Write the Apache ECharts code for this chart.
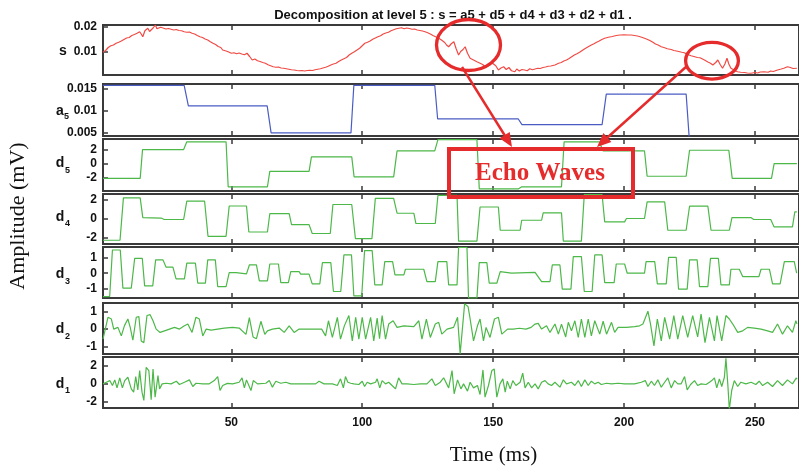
<!DOCTYPE html>
<html><head><meta charset="utf-8">
<script src="https://cdn.jsdelivr.net/npm/echarts@6/dist/echarts.min.js"></script>
<style>html,body{margin:0;padding:0;background:#fff}#c{width:799px;height:468px}</style>
</head><body><div id="c"></div>
<script>
// ---------- DATA ----------
const xTicks = [50, 100, 150, 200, 250];
const sTicks = [0.01, 0.02];
const a5Ticks = [0.005, 0.01, 0.015];
const d5Ticks = [-2, 0, 2];
const d4Ticks = [-2, 0, 2];
const d3Ticks = [-1, 0, 1];
const d2Ticks = [-1, 0, 1];
const d1Ticks = [-2, 0, 2];

const sSignal = [[1,0.0099],[2,0.0106],[3,0.0118],[4,0.0125],[5,0.0128],[6,0.0135],[7,0.0139],[8,0.0144],[9,0.0150],[10,0.0156],[11,0.0158],[12,0.0166],[13,0.0170],[14,0.0175],[15,0.0181],[15.6,0.0172],[16.2,0.0161],[17,0.0185],[17.6,0.0178],[18.1,0.0195],[18.8,0.0182],[19.4,0.0175],[20.2,0.0197],[21,0.0208],[21.6,0.0193],[22.2,0.0188],[23,0.0199],[24.2,0.0195],[25,0.0192],[26,0.0194],[27,0.0191],[28,0.0188],[29,0.0190],[30,0.0186],[31,0.0185],[32,0.0181],[33,0.0179],[34,0.0180],[35,0.0175],[36,0.0172],[37,0.0166],[38,0.0161],[39,0.0158],[40,0.0152],[41,0.0148],[42,0.0141],[43,0.0135],[44,0.0130],[45,0.0122],[46,0.0118],[46.7,0.0108],[48,0.0104],[49,0.0100],[50,0.0095],[51,0.0097],[52,0.0093],[53,0.0096],[54,0.0092],[55,0.0089],[56,0.0095],[57,0.0082],[58,0.0068],[59,0.0072],[60,0.0065],[61,0.0062],[62,0.0058],[63,0.0055],[64,0.0049],[65,0.0045],[66,0.0041],[67,0.0039],[68,0.0040],[69,0.0036],[70,0.0035],[71,0.0033],[72,0.0031],[73,0.0029],[74,0.0028],[75,0.0026],[76,0.0025],[77,0.0026],[78,0.0024],[79,0.0026],[80,0.0027],[81,0.0026],[82,0.0029],[83,0.0031],[84,0.0033],[85,0.0036],[86,0.0039],[87,0.0043],[88,0.0048],[89,0.0052],[90,0.0055],[91,0.0062],[92,0.0068],[93,0.0073],[94,0.0078],[95,0.0088],[96,0.0095],[97,0.0101],[98,0.0108],[99,0.0115],[100,0.0125],[101,0.0135],[102,0.0139],[103,0.0144],[104,0.0151],[105,0.0156],[106,0.0161],[107,0.0165],[108,0.0172],[109,0.0176],[110,0.0179],[111,0.0185],[112,0.0189],[113,0.0193],[114,0.0195],[115,0.0197],[116,0.0193],[117,0.0196],[118,0.0194],[119,0.0191],[120,0.0192],[121,0.0188],[122,0.0186],[123,0.0184],[124,0.0181],[125,0.0177],[126,0.0172],[127,0.0166],[128,0.0161],[129,0.0156],[130,0.0150],[130.5,0.0148],[131.5,0.0138],[132.2,0.0128],[133,0.0121],[134,0.0133],[135,0.0141],[135.8,0.0115],[136.8,0.0088],[137.6,0.0102],[138.5,0.0110],[139.3,0.0121],[140.2,0.0095],[141.2,0.0075],[142.5,0.0068],[143.8,0.0061],[145,0.0055],[146,0.0050],[147,0.0041],[148,0.0044],[148.8,0.0048],[149.4,0.0058],[150,0.0061],[151,0.0045],[152,0.0028],[153,0.0036],[154,0.0041],[155,0.0030],[156,0.0038],[157,0.0025],[158.3,0.0021],[159,0.0032],[160,0.0024],[161,0.0030],[162,0.0028],[163,0.0025],[164,0.0033],[165,0.0029],[166,0.0032],[167,0.0035],[168,0.0034],[169,0.0038],[170,0.0040],[171,0.0043],[172,0.0044],[173.6,0.0048],[175,0.0055],[176,0.0058],[177,0.0064],[178,0.0068],[179,0.0074],[180,0.0081],[181,0.0088],[182,0.0093],[183,0.0099],[184,0.0106],[185,0.0113],[186.3,0.0121],[187.5,0.0128],[188.5,0.0133],[189.5,0.0139],[190.5,0.0144],[191.5,0.0150],[192.6,0.0155],[194,0.0159],[195.5,0.0162],[197,0.0166],[198.5,0.0168],[200,0.0169],[201.5,0.0168],[202.7,0.0168],[204,0.0166],[205.5,0.0163],[207,0.0158],[207.8,0.0155],[209,0.0150],[210,0.0145],[211,0.0139],[212,0.0132],[213,0.0128],[214.2,0.0121],[215.5,0.0117],[216.5,0.0113],[218,0.0110],[219,0.0106],[220.5,0.0103],[222,0.0099],[223,0.0097],[224,0.0091],[225.6,0.0085],[227,0.0081],[228,0.0078],[229,0.0077],[230.7,0.0068],[232,0.0060],[233,0.0055],[233.9,0.0048],[235,0.0058],[235.8,0.0068],[236.7,0.0050],[237.6,0.0035],[238.5,0.0052],[239.3,0.0075],[240,0.0052],[240.8,0.0035],[241.5,0.0028],[242.5,0.0025],[243.3,0.0021],[244.5,0.0019],[246,0.0018],[247,0.0016],[248.4,0.0015],[250,0.0018],[251,0.0016],[252,0.0020],[253.5,0.0021],[255,0.0019],[256,0.0024],[257,0.0022],[258.6,0.0028],[260,0.0032],[261,0.0035],[262.4,0.0041],[263.5,0.0038],[264.5,0.0034],[266,0.0035]];

const a5Approx = [[1,0.0158],[32,0.0158],[33.6,0.0111],[63.7,0.0111],[65.2,0.0049],[95.7,0.0049],[96.8,0.0158],[127.7,0.0158],[128.8,0.0081],[159.6,0.0081],[161,0.0068],[191.6,0.0068],[193.2,0.0138],[223.7,0.0138],[225.2,0.001],[266,0.001]];

const d5Detail = [[1,-2.1],[15.2,-2.1],[16.1,2.0],[31.8,2.0],[33,3.1],[48,3.1],[48.8,-3.3],[63.8,-3.3],[64.7,-1.1],[79.7,-1.1],[80.6,0.95],[96,0.95],[96.9,-1.9],[112,-1.9],[113.3,1.8],[127.7,1.8],[128.9,3.4],[143.8,3.4],[144.7,-3.6],[159.6,-3.6],[160.9,-3.3],[176.1,-3.3],[177.1,3.1],[190.5,3.1],[192,1.8],[207.8,1.8],[208.8,-1.8],[223.7,-1.8],[225,1.9],[240,1.9],[241.3,-2.1],[256.3,-2.1],[257.3,0],[266,0]];

const d4Detail = [[1,-2.26],[7.5,-2.26],[8.8,2.15],[15.2,2.15],[16.2,0.1],[23.2,0.05],[24.4,-0.1],[31.8,-0.1],[33,1.8],[39.8,1.8],[41.1,-1.85],[48,-1.85],[49.2,1.3],[55.8,1.3],[56.7,-1.4],[63.8,-1.4],[64.7,0.5],[72.1,0.5],[73,-0.63],[79.7,-0.63],[80.9,-1.56],[87.8,-1.56],[88.8,1.46],[96,1.46],[97.4,-2.1],[103.7,-2.1],[105,2.1],[112,2.1],[113.3,0.55],[119.7,0.55],[120.5,-0.52],[127.9,-0.52],[128.9,2.4],[136.2,2.4],[136.8,-2.35],[143.8,-2.35],[145,1.2],[152,1.2],[152.7,-1.22],[160.3,-1.22],[160.9,-0.18],[168.5,-0.18],[169.1,0.59],[176.1,0.59],[176.8,-2.36],[183.7,-2.36],[184.8,2.5],[191.6,2.5],[192.6,-0.35],[200.2,-0.35],[200.9,0],[207.8,0],[208.8,1.73],[215.5,1.73],[216.7,-1.22],[223.7,-1.22],[225,1.28],[232,1.28],[233.2,-1.22],[240.2,-1.22],[241.2,0.1],[248.4,0.1],[249.5,-0.1],[256,-0.1],[257.3,-0.87],[264.3,-0.87],[265.2,0.69],[266,0.69]];

const d3Detail = [[1,-1.47],[3.55,-1.47],[4.6,1.46],[7.6,1.46],[8.6,-0.94],[11.8,-0.94],[13.1,0.94],[16,0.94],[16.9,-0.8],[20,-0.8],[21.1,0.84],[23.9,0.84],[25.1,0.38],[27.7,0.38],[28.9,-0.36],[32.1,-0.36],[33,0.63],[36.3,0.63],[37.2,-0.63],[40.1,-0.63],[41,0.84],[43.9,0.84],[44.8,-0.84],[48,-0.84],[49.2,0.04],[51.8,0.04],[52.5,-0.04],[55.8,-0.04],[56.9,0.52],[59.6,0.52],[60.7,-0.48],[63.8,-0.48],[64.7,0.58],[68,0.58],[68.9,-0.59],[71.8,-0.59],[72.7,0.1],[75.9,0.1],[76.5,-0.06],[79.7,-0.06],[80.9,-0.67],[83.8,-0.67],[84.8,0.67],[88,0.67],[89,-1.15],[91.8,-1.15],[93,1.15],[95.9,1.15],[96.8,-1.43],[99.8,-1.43],[100.9,1.42],[103.8,1.42],[104.8,-0.74],[107.6,-0.74],[108.6,0.73],[111.6,0.73],[112.5,-0.11],[115.9,-0.11],[116.5,0.25],[123.5,0.25],[124.7,-0.53],[127.9,-0.53],[128.9,0.73],[132.3,0.73],[133,-0.74],[136.2,-0.74],[136.8,1.62],[140,1.62],[140.6,-1.57],[143.8,-1.57],[144.7,0.67],[147.6,0.67],[148.5,-0.63],[151.4,-0.63],[152.7,0.1],[157,0.0],[166,0.05],[168.5,-0.53],[171.7,-0.53],[172.6,0.52],[175.5,0.52],[176.4,-1.0],[179.7,-1.0],[180.6,1.05],[183.7,1.05],[184.8,-1.15],[187.8,-1.15],[188.8,1.15],[191.6,1.15],[192.6,-0.59],[196.2,-0.59],[197,0.58],[200.2,0.58],[201.2,0],[207.8,0],[208.4,0.73],[211.7,0.73],[212.7,-0.67],[216.1,-0.67],[217,1.0],[219.9,1.0],[220.8,-1.0],[224.1,-1.0],[225,0.84],[227.9,0.84],[228.8,-0.84],[232,-0.84],[233,0.94],[236,0.94],[237,-0.74],[240.2,-0.74],[240.8,0.25],[244,0.25],[245.3,-0.21],[251.5,-0.21],[252.3,0.25],[255.5,0.25],[256.7,-0.67],[259.6,-0.67],[261.2,0.73],[265,0.73],[265.9,0]];

const d2Detail = [[1,-0.58],[2.9,0.68],[4.2,0.58],[5.1,0],[6.7,0.1],[8,-0.39],[9.2,0.2],[10.5,0.58],[11.4,0.1],[12.4,-0.64],[13.7,0.68],[14.7,0.72],[15.6,-0.68],[16.6,-0.78],[17.8,0.78],[19,0.83],[20.1,0.48],[21.3,0],[22.8,-0.19],[24.5,-0.1],[26.4,0],[28.3,0.1],[30.2,0],[32.1,0.19],[33.4,0.29],[35,-0.19],[36.5,0.68],[37.8,0.58],[39.1,-0.39],[40.4,0],[42.3,-0.06],[44.8,0],[47.3,0.06],[50.5,0.1],[53,0.06],[55.6,-0.3],[56.9,0.66],[58.3,-0.45],[59.6,-0.55],[61.3,0.45],[62.8,-0.3],[63.8,-0.1],[65.7,0],[68.3,0.06],[70.2,-0.19],[72.1,0.19],[74,-0.19],[75.9,0],[84.5,0],[86,-0.39],[87.1,0.48],[88.6,-0.48],[90.5,0.68],[91.7,-0.58],[93.2,0.2],[94.9,0.78],[96.2,-0.68],[97.5,0.68],[98.7,-0.58],[100,0.68],[101.3,-0.58],[103.2,0.68],[104.4,-0.68],[105.7,0.64],[106.6,-0.55],[107.6,0.78],[108.9,-0.58],[110.1,0.29],[111.8,0.48],[113.3,0.1],[115.9,0.19],[119.7,0.14],[121.6,0.48],[122.8,-0.58],[124.5,0.58],[126,-0.48],[127.9,0.29],[129.2,0.39],[130.4,-0.29],[132.4,0],[134.9,0.1],[136.4,0.68],[137.4,-1.41],[139.1,1.45],[140.4,1.3],[141,0.78],[142.5,-0.68],[144,0.19],[145,0.58],[146.3,-0.68],[147.3,0.1],[148.8,-0.48],[150.5,0.58],[152,0.68],[153.3,-0.29],[155.5,0],[157.7,0],[160,0.05],[162.5,0],[164.5,0.1],[166,0.29],[167.2,0.33],[168.5,0],[170.4,0.19],[171.7,-0.19],[173.6,0.29],[174.9,-0.29],[176.1,0.29],[177.7,-0.45],[178.7,0.39],[179.9,-0.1],[181.2,0.48],[182.5,-0.48],[183.7,0.58],[185,-0.48],[186.3,0.58],[187.5,-0.39],[188.8,0.48],[190.7,-0.29],[192,0.45],[193.3,-0.29],[195.2,0.39],[196.4,-0.19],[197.7,0.1],[200.9,0.1],[204,0.14],[205.9,0.19],[207.2,0.29],[209.1,1.03],[210.1,0.29],[211.4,-0.97],[212.7,0.58],[214.2,-0.68],[215.5,0.68],[217.4,-0.58],[219,0.78],[220.5,-0.58],[222.4,0.78],[224.3,-0.48],[226.2,0.78],[228.1,-0.45],[229.4,0.87],[230.9,-0.78],[232.6,0.68],[234.5,-0.68],[235.5,0.78],[237.3,-0.68],[238.9,0.78],[240.2,0.58],[241.5,0.29],[243.4,-0.19],[245.3,-0.1],[247.2,0.1],[249.7,0.06],[252.3,0],[254.8,-0.1],[256.7,-0.19],[258.6,0.29],[260.5,-0.29],[262.4,0.19],[264.3,-0.19],[265.6,0.48],[266,0.3]];

const d1Detail = [[1,0],[2.3,0.18],[3.6,0.36],[4.6,-0.18],[5.5,0.44],[6.35,-0.44],[7.4,0.66],[8.4,-0.44],[9.3,0.36],[10.5,0.73],[11.8,-0.55],[12.7,-0.91],[13.5,0.8],[14.3,-0.66],[15,1.46],[15.9,-0.91],[16.6,-1.82],[17.5,1.82],[18.5,1.46],[19.4,-1.75],[20.1,1.64],[20.9,-1.46],[22,0.91],[22.6,-0.55],[23.6,0],[25.1,0.07],[27,0],[29,0.29],[30.2,-0.07],[32.1,0.18],[34,0.44],[35.3,-0.29],[36.5,0.07],[39.1,0],[41.6,0],[43.5,0.36],[44.8,0.8],[45.7,-0.73],[46.7,-0.18],[48.5,0.05],[50.5,0],[53,0.18],[54.1,0.66],[55,-0.44],[55.8,0.44],[57.5,-0.73],[58.4,0.36],[60,0],[63.2,0.07],[64.5,0.36],[65.7,-0.36],[67,0.29],[68.9,0.07],[70.8,0.18],[72.7,0],[82.2,0],[83.5,0.29],[85.4,0],[88.6,0],[89.2,0.18],[90.5,-0.18],[91.7,0.55],[92.8,-0.44],[93.6,0.8],[94.5,0.18],[95.6,0.07],[96.8,0],[98.7,-0.07],[100,0.29],[100.9,-0.29],[101.9,0.18],[103.2,0],[105.1,0.18],[105.7,0.55],[106.7,-0.44],[107.6,0.36],[108.9,0],[110.1,0.18],[111.4,-0.18],[112.7,-0.55],[113.9,0.66],[115.2,0],[117.1,0],[119.7,-0.07],[122.2,0],[124.7,0],[126.6,0.55],[127.9,-0.18],[129.8,0.18],[131.1,0.66],[133,-0.44],[134.3,1.46],[135.1,-1.09],[136.4,0.44],[137.7,-0.55],[138.7,0],[140.2,-0.8],[141.2,0.18],[142.5,-0.44],[144,-0.18],[145,-1.17],[146.1,1.53],[146.9,-1.46],[148.2,-0.18],[149.5,1.46],[150.4,1.64],[151.4,-1.46],[152.6,0],[153.7,0.55],[154.6,-0.91],[155.4,0.29],[156.5,-0.55],[157.5,0.36],[158.7,-0.18],[160.3,0.18],[161.3,1.17],[162.2,-0.44],[163.4,0.18],[164.7,-0.44],[166,0],[167.2,-0.55],[168.5,0.18],[169.8,0.36],[171,0],[172.3,-0.18],[173.6,0.18],[175.5,-0.36],[176.8,0.44],[178,0],[179.9,0.18],[181.2,-0.18],[182.5,0.36],[183.7,-0.29],[185,0.44],[186.3,-0.18],[187.5,0.29],[188.8,0],[190.1,0.18],[191.3,-0.07],[193.3,0.07],[195.2,0],[197.7,0.07],[200.2,0],[204,0],[206.6,0.18],[208.1,0.36],[209.1,-0.29],[210.4,0.29],[211.6,-0.18],[212.9,0.44],[214.2,-0.36],[215.5,0.18],[216.7,0.66],[218,-0.44],[219.3,0.36],[220.5,0],[221.8,0],[223.1,0.8],[224.1,-0.66],[225.4,-0.07],[226.9,0.36],[228.1,-0.18],[229.4,0],[231.3,-0.07],[232.6,0.18],[233.5,0.36],[234.5,0.66],[235.4,-0.44],[236.4,0.55],[237.3,-0.29],[238.3,0.73],[238.9,2.8],[239.6,0],[240.2,-2.8],[241.1,-0.73],[242.1,0.36],[243.4,-0.29],[244.6,0.18],[246.5,0],[248.5,0.18],[250.3,-0.07],[251.6,0.29],[252.9,-0.18],[254.8,0.18],[256.7,-0.29],[258.6,0.36],[260.5,-0.18],[262.4,0.44],[264.3,0],[265.8,0.66],[266,0.5]];

// ---------- LAYOUT ----------
const panels = [
  {data: sSignal,  color: '#f04a44', min: 0.0008, max: 0.0208, ticks: sTicks,  top: 25,  h: 50},
  {data: a5Approx, color: '#4a5cc4', min: 0.0042, max: 0.0161, ticks: a5Ticks, top: 84,  h: 52},
  {data: d5Detail, color: '#4cb848', min: -3.9,   max: 3.5,    ticks: d5Ticks, top: 139, h: 52},
  {data: d4Detail, color: '#4cb848', min: -2.65,  max: 2.55,   ticks: d4Ticks, top: 194, h: 50},
  {data: d3Detail, color: '#4cb848', min: -1.56,  max: 1.65,   ticks: d3Ticks, top: 247, h: 51},
  {data: d2Detail, color: '#4cb848', min: -1.43,  max: 1.5,    ticks: d2Ticks, top: 303, h: 51},
  {data: d1Detail, color: '#4cb848', min: -2.65,  max: 2.95,   ticks: d1Ticks, top: 357, h: 51}
];
const X_MIN = 1, X_MAX = 266.8;
const frameColor = '#3a3a3a';
const labelFont = {fontSize: 12, fontWeight: 'bold', color: '#111', fontFamily: 'Liberation Sans'};

const grid = [], xAxis = [], yAxis = [], series = [];
panels.forEach((p, i) => {
  grid.push({left: 103, right: -2, top: p.top, height: p.h, show: true,
    borderColor: frameColor, borderWidth: 2, backgroundColor: 'transparent'});
  ['bottom', 'top'].forEach(pos => {
    xAxis.push({gridIndex: i, type: 'value', min: X_MIN, max: X_MAX, position: pos,
      axisLine: {show: false, onZero: false}, splitLine: {show: false},
      axisTick: {show: true, inside: true, length: 5, customValues: xTicks, lineStyle: {color: frameColor, width: 1.5}},
      axisLabel: Object.assign({show: pos === 'bottom' && i === panels.length - 1, customValues: xTicks, margin: 9}, labelFont)});
  });
  yAxis.push({gridIndex: i, type: 'value', min: p.min, max: p.max,
    axisLine: {show: false, onZero: false}, splitLine: {show: false},
    axisTick: {show: true, inside: true, length: 5, customValues: p.ticks, lineStyle: {color: frameColor, width: 1.5}},
    axisLabel: Object.assign({customValues: p.ticks, margin: 6}, labelFont)});
  series.push({type: 'line', xAxisIndex: 2 * i, yAxisIndex: i, data: p.data, showSymbol: false,
    clip: true, lineStyle: {color: p.color, width: 1.2}, silent: true, animation: false});
});

const red = '#e52b2b';
const bold14 = 'bold 14px "Liberation Sans"';
const bold9 = 'bold 9px "Liberation Sans"';
function txt(x, y, text, font, extra) {
  return {type: 'text', x: x, y: y, z: 100, style: Object.assign({text: text, font: font, fill: '#111', align: 'center', verticalAlign: 'middle'}, extra || {})};
}
const graphic = [
  txt(453, 15, 'Decomposition at level 5 : s = a5 + d5 + d4 + d3 + d2 + d1 .', 'bold 13px "Liberation Sans"'),
  txt(63, 51, 's', bold14),
  txt(60, 111, 'a', bold14), txt(66.5, 116.5, '5', bold9),
  txt(60, 163, 'd', bold14), txt(67.5, 170.5, '5', bold9),
  txt(60, 217.5, 'd', bold14), txt(67.5, 224, '4', bold9),
  txt(60, 274, 'd', bold14), txt(67.5, 282, '3', bold9),
  txt(60, 329, 'd', bold14), txt(67.5, 336.5, '2', bold9),
  txt(60, 384, 'd', bold14), txt(67.5, 391, '1', bold9),
  {type: 'text', x: 18, y: 216, rotation: Math.PI / 2, z: 100,
    style: {text: 'Amplitude (mV)', font: '22px "Liberation Serif"', fill: '#111', align: 'center', verticalAlign: 'middle'}},
  txt(493.5, 455, 'Time (ms)', '21px "Liberation Serif"'),
  // annotations
  {type: 'ellipse', z: 100, shape: {cx: 468.5, cy: 45, rx: 32, ry: 25.5}, style: {fill: 'none', stroke: red, lineWidth: 3.3}},
  {type: 'ellipse', z: 100, shape: {cx: 712, cy: 60.7, rx: 26.4, ry: 18.4}, style: {fill: 'none', stroke: red, lineWidth: 3.3}},
  {type: 'line', z: 100, shape: {x1: 462, y1: 67, x2: 507, y2: 139}, style: {stroke: red, lineWidth: 2.5}},
  {type: 'polygon', z: 100, shape: {points: [[512, 147], [499.5, 138.3], [509.7, 131.9]]}, style: {fill: red}},
  {type: 'line', z: 100, shape: {x1: 687, y1: 66, x2: 603, y2: 141.5}, style: {stroke: red, lineWidth: 2.5}},
  {type: 'polygon', z: 100, shape: {points: [[597, 147], [603.4, 133.1], [611.4, 142.1]]}, style: {fill: red}},
  {type: 'rect', z: 100, shape: {x: 449, y: 149, width: 184, height: 48}, style: {fill: 'none', stroke: red, lineWidth: 4}},
  txt(540, 174, 'Echo Waves', 'bold 25px "Liberation Serif"', {fill: red})
];

const chart = echarts.init(document.getElementById('c'), null, {renderer: 'canvas'});
chart.setOption({animation: false, grid: grid, xAxis: xAxis, yAxis: yAxis, series: series, graphic: graphic});
</script>
</body></html>
